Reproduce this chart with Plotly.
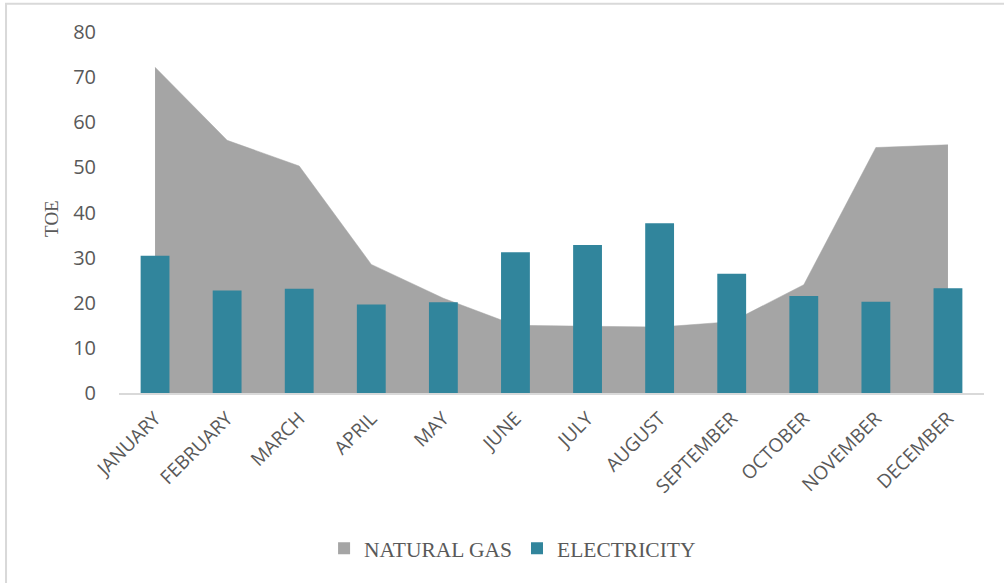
import plotly.graph_objects as go

months = ["JANUARY", "FEBRUARY", "MARCH", "APRIL", "MAY", "JUNE", "JULY",
          "AUGUST", "SEPTEMBER", "OCTOBER", "NOVEMBER", "DECEMBER"]
natural_gas = [72.2, 56.0, 50.3, 28.5, 21.0, 15.0, 14.8, 14.6, 15.8, 24.0, 54.4, 55.0]
electricity = [30.4, 22.7, 23.1, 19.6, 20.1, 31.2, 32.8, 37.6, 26.4, 21.5, 20.2, 23.2]
y_ticks = [0, 10, 20, 30, 40, 50, 60, 70, 80]

GRAY = "#A5A5A5"
TEAL = "#31859C"
TXT = "#595959"

fig = go.Figure()
fig.add_trace(go.Scatter(
    x=months, y=natural_gas, name="NATURAL GAS", mode="lines",
    fill="tozeroy", fillcolor=GRAY, line=dict(color=GRAY, width=0.5),
    xaxis="x", yaxis="y", showlegend=False,
))
# legend swatch for the area series
fig.add_trace(go.Bar(
    x=months, y=[None] * len(months), name="NATURAL GAS",
    marker=dict(color=GRAY, line=dict(width=0)), width=0.4,
    xaxis="x2", yaxis="y2",
))
fig.add_trace(go.Bar(
    x=months, y=electricity, name="ELECTRICITY",
    marker=dict(color=TEAL, line=dict(width=0)), width=0.4,
    xaxis="x2", yaxis="y2",
))

fig.update_layout(
    width=1004, height=583,
    margin=dict(l=119, r=20, t=32, b=190),
    paper_bgcolor="white", plot_bgcolor="white",
    barmode="overlay",
    showlegend=True,
    legend=dict(orientation="h", x=0.455, xanchor="center", y=-0.43, yanchor="middle",
                font=dict(family="Liberation Serif", size=21.5, color=TXT),
                traceorder="normal", itemwidth=30),
    xaxis=dict(type="category", categoryorder="array", categoryarray=months,
               range=[-0.5, 11.5], tickangle=-45,
               tickfont=dict(family="Open Sans", size=19, color=TXT),
               showgrid=False, showline=True, linecolor="#D9D9D9", linewidth=2,
               ticks="", zeroline=False, ticklabelstandoff=5),
    yaxis=dict(range=[0, 80], tickvals=y_ticks, showgrid=False, zeroline=False,
               tickfont=dict(family="Open Sans", size=20, color=TXT),
               ticks="", ticklabelstandoff=22, showline=False),
    xaxis2=dict(type="category", categoryorder="array", categoryarray=months,
                range=[-0.5, 11.5], overlaying="x", visible=False),
    yaxis2=dict(range=[0, 80], overlaying="y", visible=False),
    annotations=[dict(text="TOE", xref="paper", yref="paper", x=-0.0775, y=0.485,
                      xanchor="center", yanchor="middle",
                      textangle=-90, showarrow=False,
                      font=dict(family="Liberation Serif", size=19, color=TXT))],
    shapes=[dict(type="rect", xref="paper", yref="paper", x0=-0.1306, y0=-1.0,
                 x1=1.5, y1=1.078, line=dict(color="#D9D9D9", width=2), layer="below")],
)

fig.write_html("out.html", config={"displayModeBar": False},
               post_script="document.body.style.margin='0';document.body.style.overflow='hidden';")
